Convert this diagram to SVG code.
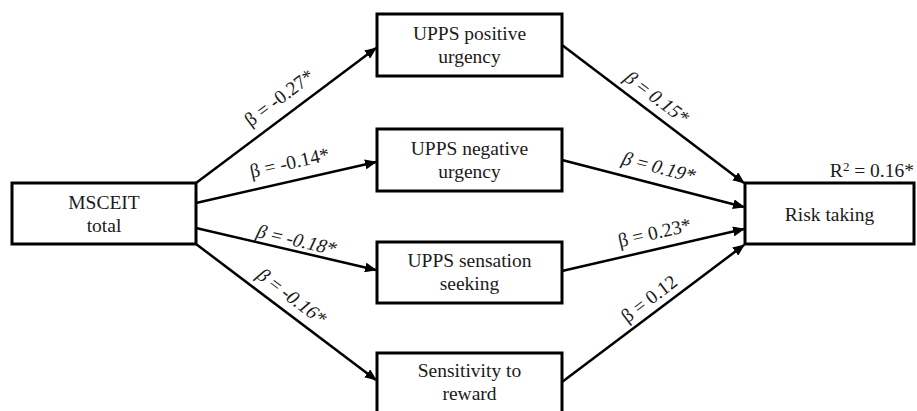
<svg xmlns="http://www.w3.org/2000/svg" width="917" height="411" viewBox="0 0 917 411">
<style>
.box{fill:#fff;stroke:#000;stroke-width:3}
.t{font-family:"Liberation Serif","Times New Roman",serif;font-size:19.5px;fill:#1a1a1a;text-anchor:middle}
.e{stroke:#000;stroke-width:2.5;fill:none;marker-end:url(#ah)}
</style>
<defs>
<marker id="ah" markerUnits="userSpaceOnUse" markerWidth="12" markerHeight="10" refX="11" refY="5" orient="auto">
<path d="M0,0 L12,5 L0,10 Z" fill="#000"/>
</marker>
</defs>
<rect width="917" height="411" fill="#fff"/>
<g id="connectors">
<line class="e" x1="196" y1="183" x2="376" y2="48"/>
<line class="e" x1="196" y1="203" x2="376" y2="162"/>
<line class="e" x1="196" y1="228" x2="376" y2="270"/>
<line class="e" x1="196" y1="244" x2="376" y2="380"/>
<line class="e" x1="562" y1="45" x2="744" y2="183"/>
<line class="e" x1="562" y1="160" x2="744" y2="207"/>
<line class="e" x1="562" y1="271" x2="744" y2="229"/>
<line class="e" x1="562" y1="382" x2="744" y2="245"/>
<text class="t" transform="translate(283,103) rotate(-36.7)">β = -0.27*</text>
<text class="t" transform="translate(291,169) rotate(-12.8)">β = -0.14*</text>
<text class="t" transform="translate(294,246) rotate(13.1) skewX(-12)">β = -0.18*</text>
<text class="t" transform="translate(287,301) rotate(36.9) skewX(-12)">β = -0.16*</text>
<text class="t" transform="translate(652,102) rotate(37) skewX(-12)">β = 0.15*</text>
<text class="t" transform="translate(656,173) rotate(14.4) skewX(-12)">β = 0.19*</text>
<text class="t" transform="translate(656,239) rotate(-12.9)">β = 0.23*</text>
<text class="t" transform="translate(653,304) rotate(-37)">β = 0.12</text>
</g>
<g id="msceit">
<rect class="box" x="12" y="183" width="184" height="61"/>
<text class="t" x="104" y="209">MSCEIT</text>
<text class="t" x="104" y="232">total</text>
</g>
<g id="positive">
<rect class="box" x="377" y="14" width="185" height="62"/>
<text class="t" x="469.5" y="40">UPPS positive</text>
<text class="t" x="469.5" y="63">urgency</text>
</g>
<g id="negative">
<rect class="box" x="377" y="129" width="185" height="62"/>
<text class="t" x="469.5" y="155">UPPS negative</text>
<text class="t" x="469.5" y="178">urgency</text>
</g>
<g id="sensation">
<rect class="box" x="377" y="242" width="185" height="61"/>
<text class="t" x="469.5" y="267">UPPS sensation</text>
<text class="t" x="469.5" y="290">seeking</text>
</g>
<g id="sensitivity">
<rect class="box" x="377" y="353" width="185" height="64"/>
<text class="t" x="469.5" y="377">Sensitivity to</text>
<text class="t" x="469.5" y="400">reward</text>
</g>
<g id="risk">
<rect class="box" x="745" y="183" width="169" height="61"/>
<text class="t" x="829.5" y="221">Risk taking</text>
<text class="t" x="914" y="177" style="text-anchor:end">R<tspan font-size="13" dy="-6">2</tspan><tspan dy="6"> = 0.16*</tspan></text>
</g>
</svg>
